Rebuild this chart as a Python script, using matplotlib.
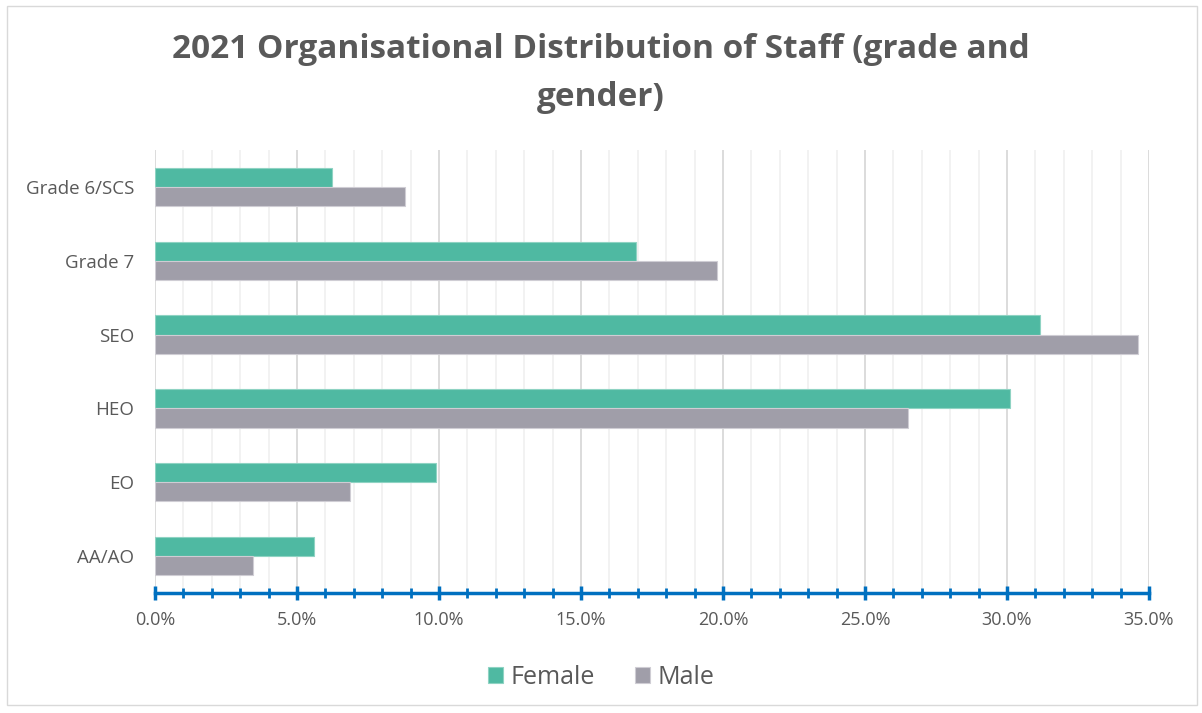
import matplotlib.pyplot as plt
from matplotlib.ticker import MultipleLocator, FuncFormatter
from matplotlib.patches import Rectangle

# categories (top to bottom) and values in percent
grades = ['Grade 6/SCS', 'Grade 7', 'SEO', 'HEO', 'EO', 'AA/AO']
female = [6.23, 16.95, 31.15, 30.1, 9.88, 5.6]
male = [8.8, 19.78, 34.6, 26.5, 6.86, 3.46]

c_female = '#4FB9A2'
c_male = '#A09EA9'
grey = '#595959'

plt.rcParams['font.family'] = ['Open Sans', 'DejaVu Sans']

fig = plt.figure(figsize=(12.02, 7.13), dpi=100)
ax = fig.add_axes([155 / 1202, 1 - 593 / 713, (1149 - 155) / 1202, (593 - 150) / 713])

# outer chart border
fig.patches.append(Rectangle((7 / 1202, 8 / 713), 1 - 12 / 1202, 1 - 14 / 713,
                             transform=fig.transFigure, fill=False,
                             edgecolor='#D9D9D9', linewidth=1))

n = len(grades)
pos = [n - 1 - i for i in range(n)]
h = 0.26
ax.barh([p + h / 2 for p in pos], female, height=h, color=c_female,
        edgecolor='#8FD3C3', linewidth=0.8, label='Female', zorder=3)
ax.barh([p - h / 2 for p in pos], male, height=h, color=c_male,
        edgecolor='#CFCDD4', linewidth=0.8, label='Male', zorder=3)

ax.set_xlim(0, 35)
ax.set_ylim(-0.5, n - 0.5)
ax.set_yticks(pos)
ax.set_yticklabels(grades, fontsize=13.5, color=grey)
ax.tick_params(axis='y', length=0, pad=15)

ax.xaxis.set_major_locator(MultipleLocator(5))
ax.xaxis.set_minor_locator(MultipleLocator(1))
ax.xaxis.set_major_formatter(FuncFormatter(lambda v, p: f'{v:.1f}%'))
ax.tick_params(axis='x', which='major', direction='inout', length=10, width=2.5,
               color='#0070C0', labelsize=13, labelcolor=grey, pad=8)
ax.tick_params(axis='x', which='minor', direction='inout', length=7, width=2,
               color='#0070C0')

ax.grid(axis='x', which='major', color='#D9D9D9', linewidth=1.3, zorder=0)
ax.grid(axis='x', which='minor', color='#F0F0F0', linewidth=1.2, zorder=0)
ax.set_axisbelow(True)

for s in ['top', 'right', 'left']:
    ax.spines[s].set_visible(False)
ax.spines['bottom'].set_color('#0070C0')
ax.spines['bottom'].set_linewidth(2.5)

fig.text(0.5, 1 - 74 / 713, '2021 Organisational Distribution of Staff (grade and\ngender)',
         ha='center', va='center', fontsize=24, fontweight='bold', color=grey,
         linespacing=1.6)

fig.legend(loc='center', bbox_to_anchor=(0.5, 1 - 677 / 713), ncol=2, frameon=False,
           fontsize=18, labelcolor=grey, handlelength=0.6, handleheight=0.6,
           handletextpad=0.3, columnspacing=1.6)

fig.savefig('out.png', dpi=100)
